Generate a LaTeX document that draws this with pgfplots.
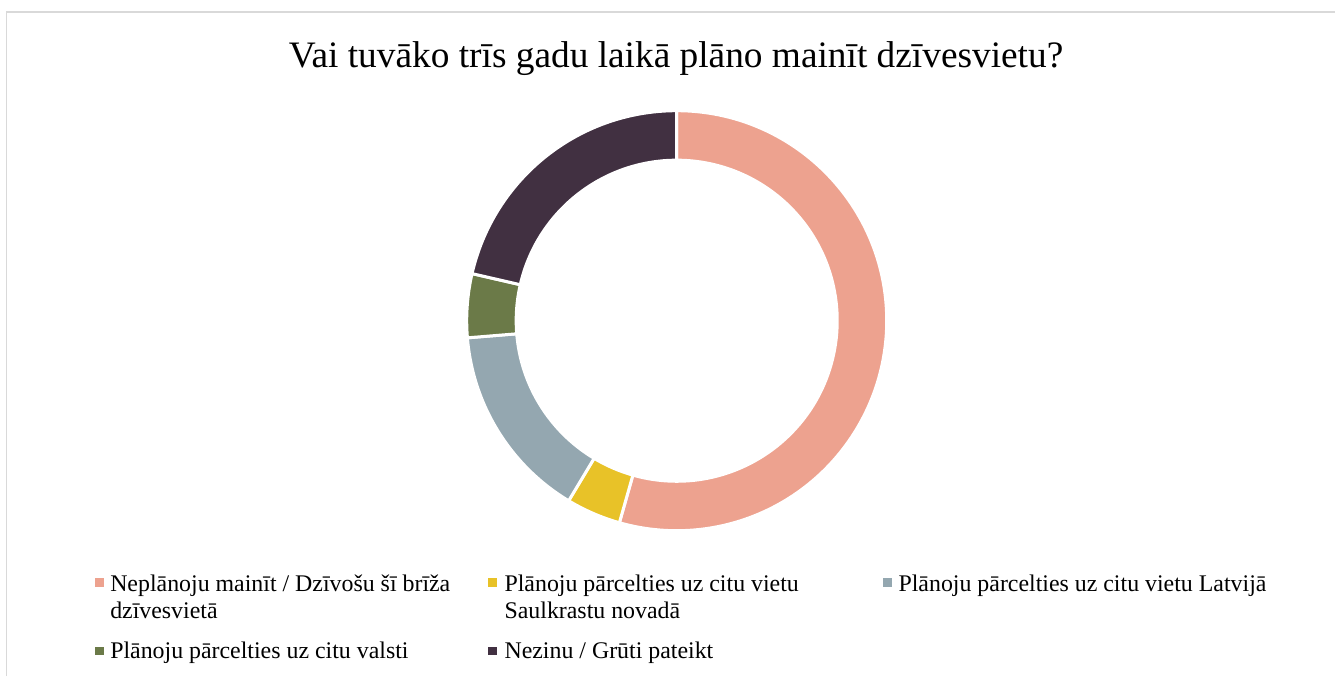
\documentclass[border=0pt]{standalone}
\usepackage{pgfplots}
\pgfplotsset{compat=1.18}
\usepackage{pgfplotstable}
\usepackage{fontspec}
\setmainfont{Liberation Serif}
\definecolor{cA}{HTML}{EDA28F}
\definecolor{cB}{HTML}{E8C228}
\definecolor{cC}{HTML}{94A7B0}
\definecolor{cD}{HTML}{6B7A48}
\definecolor{cE}{HTML}{413041}
\definecolor{borderc}{HTML}{D9D9D9}
\pgfplotstableread{
value
54.4
4.2
15.1
4.9
21.4
}\donutdata
\begin{document}
\begin{tikzpicture}
\begin{axis}[hide axis, x=0.75pt, y=0.75pt, xmin=0, xmax=1335, ymin=0, ymax=676, clip=false]
\addplot[draw=none, forget plot] coordinates {(0,0) (1335,676)};
\coordinate (SW) at (axis cs:0,0);
\coordinate (NE) at (axis cs:1335,676);
% frame
\draw[borderc, line width=1.2pt] (axis cs:6.5,0) -- (axis cs:6.5,664) -- (axis cs:1335,664);
% title
\node[anchor=base, inner sep=0pt, font=\fontsize{28}{33.6}\selectfont] at (axis cs:676,608.3) {Vai tuvāko trīs gadu laikā plāno mainīt dzīvesvietu?};
% donut
\pgfplotsextra{%
  \xdef\cum{0}%
  \foreach \i/\col in {0/cA,1/cB,2/cC,3/cD,4/cE}{%
    \pgfplotstablegetelem{\i}{value}\of\donutdata
    \let\val\pgfplotsretval
    \pgfmathsetmacro\aone{90-3.6*\cum}%
    \pgfmathsetmacro\atwo{90-3.6*(\cum+\val)}%
    \pgfmathsetmacro\newcum{\cum+\val}%
    \xdef\cum{\newcum}%
    \fill[\col, draw=white, line width=2.25pt] ([shift={(\aone:157.5pt)}]axis cs:676.7,355.3) arc[start angle=\aone, end angle=\atwo, radius=157.5pt] -- ([shift={(\atwo:120.4pt)}]axis cs:676.7,355.3) arc[start angle=\atwo, end angle=\aone, radius=120.4pt] -- cycle;
  }%
}
% legend
\tikzset{legtext/.style={anchor=base west, inner sep=0pt, font=\fontsize{17.9}{21.5}\selectfont}}
\fill[cA] (axis cs:95,89.3) rectangle (axis cs:103.5,97.8);
\node[legtext] at (axis cs:110,84.3) {Neplānoju mainīt / Dzīvošu šī brīža};
\node[legtext] at (axis cs:110,57.7) {dzīvesvietā};
\fill[cB] (axis cs:488.3,89.3) rectangle (axis cs:496.8,97.8);
\node[legtext] at (axis cs:504.3,84.3) {Plānoju pārcelties uz citu vietu};
\node[legtext] at (axis cs:504.3,57.7) {Saulkrastu novadā};
\fill[cC] (axis cs:883.3,89.3) rectangle (axis cs:891.8,97.8);
\node[legtext] at (axis cs:898.3,84.3) {Plānoju pārcelties uz citu vietu Latvijā};
\fill[cD] (axis cs:95,20.7) rectangle (axis cs:103.5,29.2);
\node[legtext] at (axis cs:110,17.7) {Plānoju pārcelties uz citu valsti};
\fill[cE] (axis cs:488.3,20.7) rectangle (axis cs:496.8,29.2);
\node[legtext] at (axis cs:504.3,17.7) {Nezinu / Grūti pateikt};
\end{axis}
\pgfresetboundingbox
\useasboundingbox (SW) rectangle (NE);
\end{tikzpicture}
\end{document}
